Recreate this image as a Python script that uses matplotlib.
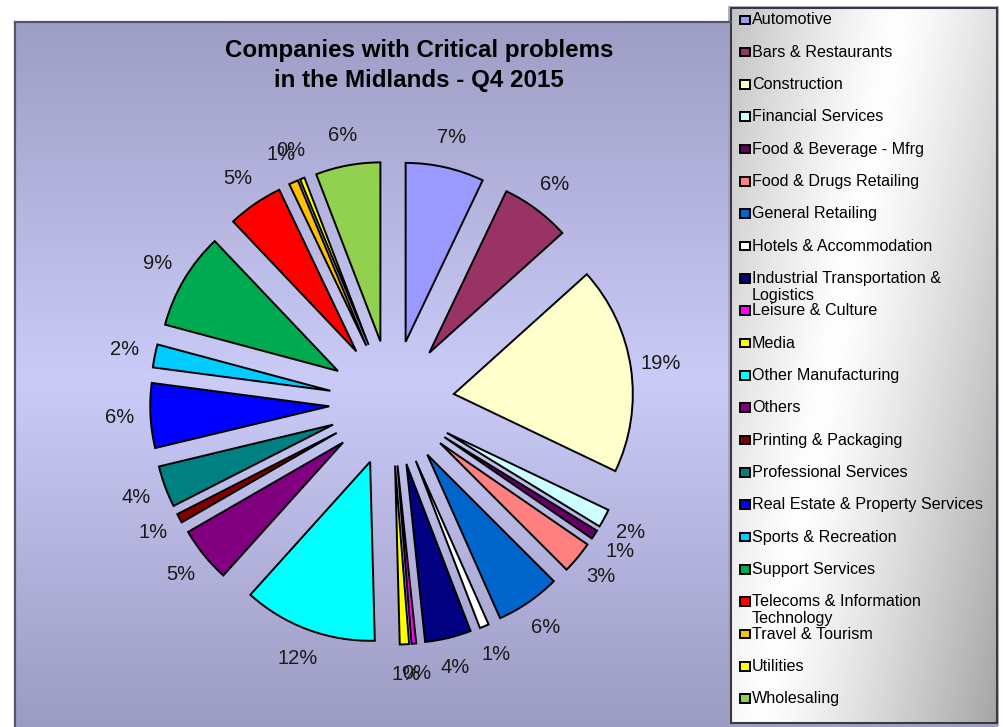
import matplotlib
matplotlib.use('Agg')
import matplotlib.pyplot as plt
import numpy as np
from matplotlib.patches import Rectangle

plt.rcParams['font.family'] = ['Liberation Sans', 'DejaVu Sans']

# data: number of companies per sector
categories = ['Automotive', 'Bars & Restaurants', 'Construction', 'Financial Services',
              'Food & Beverage - Mfrg', 'Food & Drugs Retailing', 'General Retailing',
              'Hotels & Accommodation', 'Industrial Transportation &\nLogistics',
              'Leisure & Culture', 'Media', 'Other Manufacturing', 'Others',
              'Printing & Packaging', 'Professional Services',
              'Real Estate & Property Services', 'Sports & Recreation', 'Support Services',
              'Telecoms & Information\nTechnology', 'Travel & Tourism', 'Utilities',
              'Wholesaling']
counts = [17, 15, 45, 4, 2, 7, 14, 2, 10, 1, 2, 29, 12, 2, 9, 14, 5, 21, 12, 2, 1, 14]
colors = ['#9999ff', '#993366', '#ffffcc', '#ccffff', '#660066', '#ff8080', '#0066cc',
          '#ffffff', '#000080', '#ff00ff', '#ffff00', '#00ffff', '#800080', '#800000',
          '#008080', '#0000ff', '#00ccff', '#00aa50', '#ff0000', '#ffc000', '#ffff00',
          '#92d050']

W, H = 1004, 727
fig = plt.figure(figsize=(W / 100, H / 100), dpi=100)

# background layer in pixel coordinates
bg = fig.add_axes([0, 0, 1, 1], zorder=0)

ys = np.linspace(22, H, 300)
top = np.array([0x9d, 0x9d, 0xc5]) / 255
mid = np.array([0xcb, 0xcb, 0xf8]) / 255
bot = np.array([0x9b, 0x9b, 0xc3]) / 255
grad = np.stack([np.interp(ys, [22, 380, H], [top[c], mid[c], bot[c]]) for c in range(3)], axis=1)
bg.imshow(grad[:, None, :], extent=(15, 998, H, 22), aspect='auto', interpolation='bilinear')
bg.plot([15, 15], [22, H], color='#55556a', lw=1.6)
bg.plot([15, 731], [22, 22], color='#55556a', lw=1.6)

# legend box with grey/white gradient
lx0, lx1, ly0, ly1 = 731, 997, 8, 723
xx, yy = np.meshgrid(np.arange(lx0, lx1), np.arange(ly0, ly1))
s = xx - (900 - 140 * (yy - 7) / 713)
v = 1 - 0.36 * np.clip(np.abs(s) / 240, 0, 1) ** 1.2
bg.imshow(np.dstack([v, v, v]), extent=(lx0, lx1, ly1, ly0), aspect='auto')
bg.add_patch(Rectangle((lx0 - 1.5, ly0 - 1.5), lx1 - lx0 + 3, ly1 - ly0 + 3, fill=False,
                       ec='#a0a0c8', lw=1.2))
bg.add_patch(Rectangle((lx0, ly0), lx1 - lx0, ly1 - ly0, fill=False, ec='#3a3a3a', lw=1.5))

for i, (name, col) in enumerate(zip(categories, colors)):
    y = 20 + i * 32.33
    bg.add_patch(Rectangle((740.5, y - 4.5), 9.5, 8.5, fc=col, ec='black', lw=1.4))
    for j, line in enumerate(name.split('\n')):
        bg.text(752, y + j * 17, line, fontsize=11.6, va='center', ha='left', color='black')

bg.text(419, 50, 'Companies with Critical problems', fontsize=17.4, fontweight='bold',
        ha='center', va='center')
bg.text(419, 80, 'in the Midlands - Q4 2015', fontsize=17.4, fontweight='bold',
        ha='center', va='center')

bg.set_xlim(0, W)
bg.set_ylim(H, 0)
bg.axis('off')

# exploded pie
ax = fig.add_axes([0, 0, 1, 1], zorder=1)
ax.pie(counts, colors=colors, explode=[0.35] * len(counts), startangle=90,
       counterclock=False, autopct='%.0f%%', pctdistance=1.17,
       wedgeprops=dict(edgecolor='black', linewidth=1.4),
       textprops=dict(fontsize=14.5, color='#1a1a1a'))
cx, cy, r = 391.8, 403, 179
ax.set_aspect('auto')
ax.set_xlim(-cx / r, (W - cx) / r)
ax.set_ylim(-(H - cy) / r, cy / r)
ax.axis('off')

fig.savefig('out.png', dpi=100)
